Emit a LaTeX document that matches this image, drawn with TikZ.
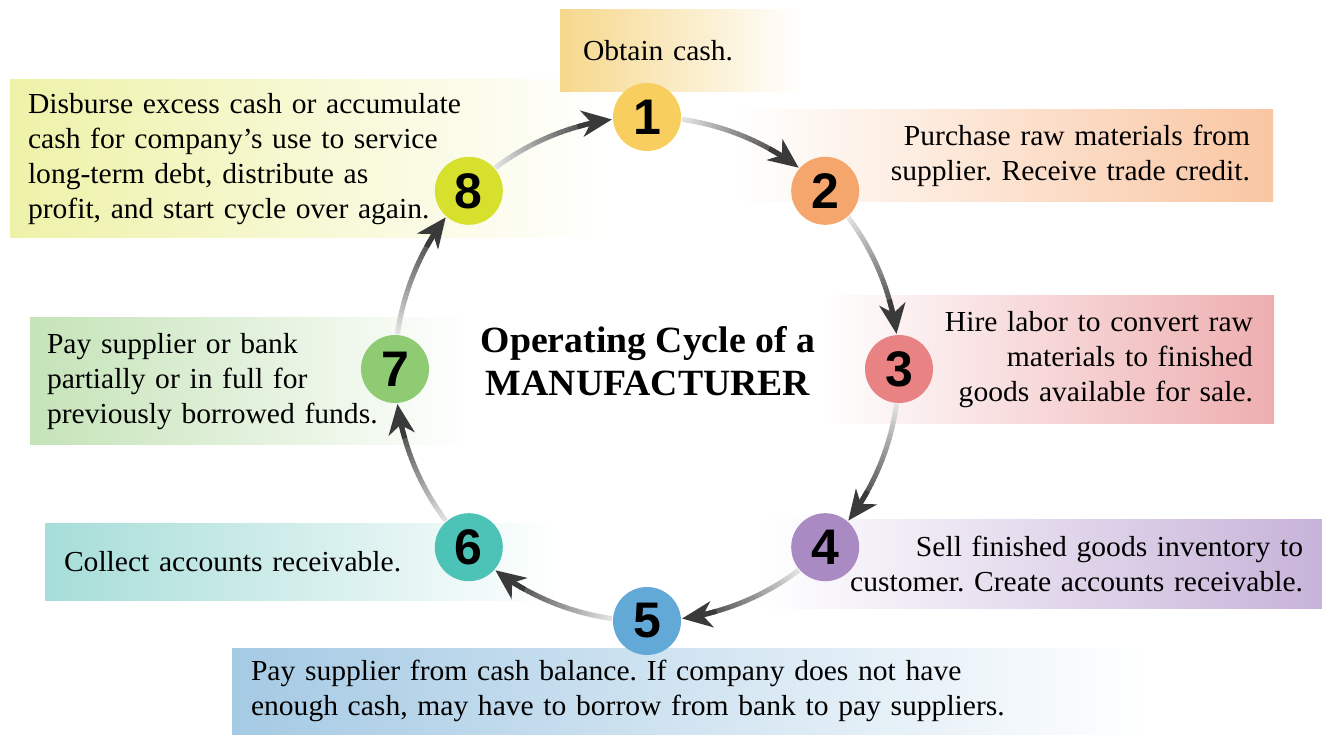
\documentclass[tikz,border=0pt]{standalone}
\usepackage{fontspec}
\setmainfont{Liberation Serif}[FakeStretch=1.02]
\newfontfamily\numfont{Liberation Sans}
\usetikzlibrary{arrows.meta,calc}
\frenchspacing
\definecolor{c1}{HTML}{F8CF5E}
\definecolor{c2}{HTML}{F5A66C}
\definecolor{c3}{HTML}{E98383}
\definecolor{c4}{HTML}{A98AC3}
\definecolor{c5}{HTML}{63A9D7}
\definecolor{c6}{HTML}{4DC3B8}
\definecolor{c7}{HTML}{8ECB73}
\definecolor{c8}{HTML}{D7E02C}
\definecolor{b1}{HTML}{F6D88C}
\definecolor{b2}{HTML}{F9C6A2}
\definecolor{b3}{HTML}{EEAEB0}
\definecolor{b4}{HTML}{C7B3D9}
\definecolor{b5}{HTML}{A5CAE4}
\definecolor{b6}{HTML}{A6DDD8}
\definecolor{b7}{HTML}{C5E3B8}
\definecolor{b8}{HTML}{EEF2A8}
\definecolor{arrowdark}{HTML}{3A3A3A}
\begin{document}
\begin{tikzpicture}[x=1pt,y=1pt,
  box/.style={rectangle, inner ysep=0pt, font=\fontsize{29}{35}\selectfont},
  num/.style={circle, fill=#1, minimum size=68pt, inner sep=0pt,
    font=\numfont\bfseries\fontsize{50}{50}\selectfont},
  title/.style={align=center, font=\bfseries\fontsize{37}{43}\selectfont}
]
\useasboundingbox (0,0) rectangle (1322,734);
\coordinate (C) at (647,365);

% boxes
\node[box, left color=b8, right color=white, inner xsep=18pt, text width=564pt,
  minimum height=158pt, align=left] (B8) at (310,575)
  {Disburse excess cash or accumulate\\cash for company’s use to service\\long-term debt, distribute as\\profit, and start cycle over again.};
\node[box, left color=b1, right color=white, inner xsep=23pt, text width=194pt,
  minimum height=82pt, align=left] (B1) at (680,683) {Obtain cash.};
\node[box, left color=white, right color=b2, inner xsep=23pt, text width=492pt,
  minimum height=92pt, align=right] (B2) at (1004,578)
  {Purchase raw materials from\\supplier. Receive trade credit.};
\node[box, left color=white, right color=b3, inner xsep=21pt, text width=412pt,
  minimum height=128pt, align=right] (B3) at (1047,374)
  {Hire labor to convert raw\\materials to finished\\goods available for sale.};
\node[box, left color=white, right color=b4, inner xsep=19pt, text width=524pt,
  minimum height=88pt, align=right] (B4) at (1041,170)
  {Sell finished goods inventory to\\customer. Create accounts receivable.};
\node[box, left color=b5, right color=white, inner xsep=19pt, text width=880pt,
  minimum height=86pt, align=left] (B5) at (691,43)
  {Pay supplier from cash balance. If company does not have\\enough cash, may have to borrow from bank to pay suppliers.};
\node[box, left color=b6, right color=white, inner xsep=19pt, text width=477pt,
  minimum height=76pt, align=left] (B6) at (302.5,172)
  {Collect accounts receivable.};
\node[box, left color=b7, right color=white, inner xsep=17pt, text width=406pt,
  minimum height=127pt, align=left] (B7) at (250,352.5)
  {Pay supplier or bank\\partially or in full for\\previously borrowed funds.};

% arrows (gradient arcs)
\foreach \k in {1,...,8}{
  \pgfmathsetmacro\a{90-(\k-1)*45-8}
  \foreach \i in {0,...,25}{
    \pgfmathsetmacro\s{\a-\i}
    \pgfmathtruncatemacro\c{12+66*\i/25}
    \draw[line width=5pt, draw=black!\c] ($(C)+(\s:252)$)
      arc[start angle=\s, end angle=\s-1.15, radius=252];
  }
  \pgfmathsetmacro\p{\a-21}
  \pgfmathsetmacro\q{\a-29}
  \draw[line width=5pt, draw=arrowdark,
    -{Stealth[length=30pt, width=26pt, inset=9pt]}]
    ($(C)+(\p:252)$) arc[start angle=\p, end angle=\q, radius=252];
}

% numbered circles
\foreach \k in {1,...,8}{
  \pgfmathsetmacro\ang{90-(\k-1)*45}
  \node[num=c\k] (n\k) at ($(C)+(\ang:252)$) {\k};
}

\node[title] (T) at (648,373) {Operating Cycle of a\\MANUFACTURER};
\end{tikzpicture}
\end{document}
